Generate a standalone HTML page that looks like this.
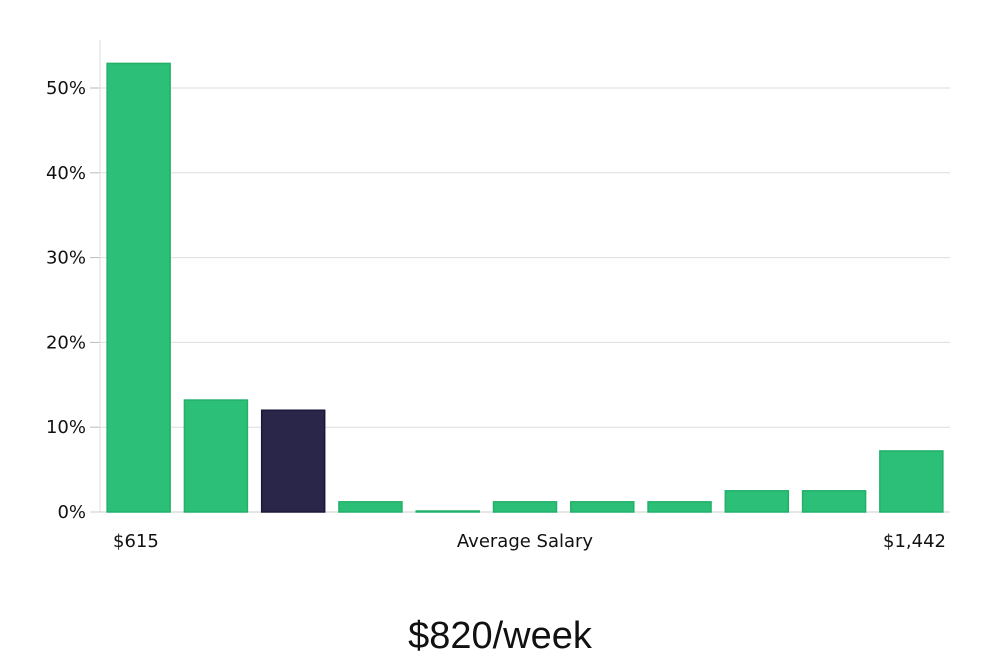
<!DOCTYPE html>
<html><head><meta charset="utf-8"><style>
body{margin:0;background:#fff;width:1000px;height:660px;overflow:hidden}
svg text{font-family:"DejaVu Sans","Liberation Sans",sans-serif;fill:#111}
</style></head><body>
<svg id="chart" width="1000" height="660" xmlns="http://www.w3.org/2000/svg">
<g id="grid"></g>
<g id="yticks"></g>
<line x1="100" y1="40" x2="100" y2="512" stroke="#ddd" stroke-width="1"/>
<line x1="90" y1="512" x2="950" y2="512" stroke="#ccc" stroke-width="1"/>
<g id="bars"></g>
<text x="113" y="547" font-size="18">$615</text>
<text x="525" y="547" font-size="18" text-anchor="middle">Average Salary</text>
<text x="946" y="547" font-size="18" text-anchor="end">$1,442</text>
<text x="500" y="648" font-size="38" text-anchor="middle" style="font-family:'Liberation Sans',sans-serif;font-weight:300">$820/week</text>
</svg>
<script>
const values=[52.9,13.2,12.0,1.2,0.1,1.2,1.2,1.2,2.5,2.5,7.2];
const highlight=[false,false,true,false,false,false,false,false,false,false,false];
const yTicks=[0,10,20,30,40,50];
const yTickLabels=["0%","10%","20%","30%","40%","50%"];
const NS="http://www.w3.org/2000/svg";
const x0=100,x1=950,yBase=512,pxPer=8.48;
const band=(x1-x0)/values.length,bw=63;
function y(v){return yBase-v*pxPer;}
function x(i){return x0+i*band+(band-bw)/2;}
const grid=document.getElementById('grid'),yt=document.getElementById('yticks'),bars=document.getElementById('bars');
yTicks.forEach((t,i)=>{
  if(t>0){const l=document.createElementNS(NS,'line');
  
  
  l.setAttribute('x1',x0);l.setAttribute('x2',x1);l.setAttribute('y1',y(t));l.setAttribute('y2',y(t));
  l.setAttribute('stroke','#ddd');grid.appendChild(l);}
  const tk=document.createElementNS(NS,'line');
  
  
  tk.setAttribute('x1',x0-10);tk.setAttribute('x2',x0);tk.setAttribute('y1',y(t));tk.setAttribute('y2',y(t));
  tk.setAttribute('stroke','#bbb');yt.appendChild(tk);
  const tx=document.createElementNS(NS,'text');
  
  
  tx.setAttribute('x',x0-14);tx.setAttribute('y',y(t)+6);tx.setAttribute('text-anchor','end');tx.setAttribute('font-size','18');
  tx.textContent=yTickLabels[i];yt.appendChild(tx);
});
values.forEach((v,i)=>{
  const r=document.createElementNS(NS,'rect');
  
  
  const h=Math.max(v*pxPer,1);
  r.setAttribute('x',x(i));r.setAttribute('y',yBase-h);r.setAttribute('width',bw);r.setAttribute('height',h);
  r.setAttribute('fill',highlight[i]?'#29264a':'#2bbf77');
  r.setAttribute('stroke',highlight[i]?'#1a1838':'#22b06a');r.setAttribute('stroke-width','1.5');
  bars.appendChild(r);
});
</script>
</body></html>
